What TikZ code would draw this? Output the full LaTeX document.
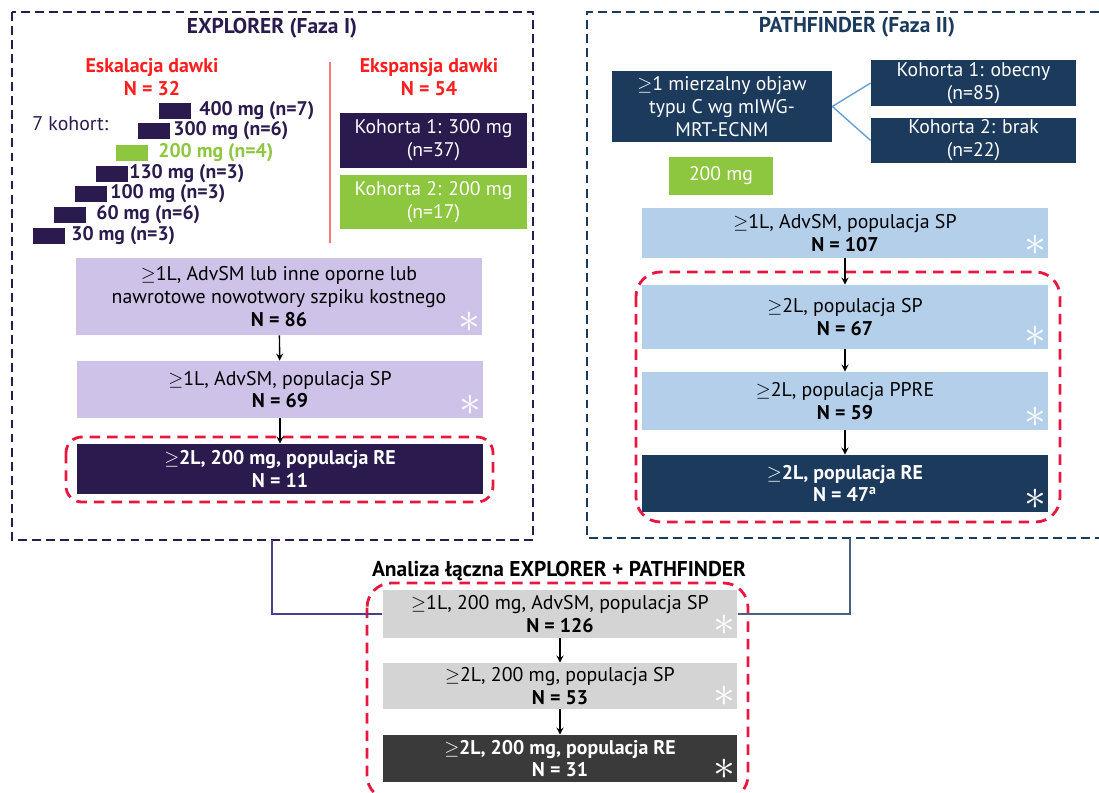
\documentclass[tikz,border=0pt]{standalone}
\usepackage{fontspec}
\setmainfont{PT Sans}
\usetikzlibrary{positioning}
\tikzset{>=stealth}
\definecolor{explnavy}{HTML}{2B1A4E}
\definecolor{pathnavy}{HTML}{1B3A5C}
\definecolor{lav}{HTML}{CEC2E8}
\definecolor{lightblue}{HTML}{B3CFEA}
\definecolor{limegreen}{HTML}{8DC63F}
\definecolor{lightgrey}{HTML}{D4D4D4}
\definecolor{darkgrey}{HTML}{3A3A3A}
\definecolor{alertred}{HTML}{E8173F}
\definecolor{titlered}{HTML}{FF1E1E}
\definecolor{linkblue}{HTML}{6A9FD4}
\definecolor{linkpurple}{HTML}{4B3F8C}

\tikzset{
  box/.style={rectangle, inner sep=1pt, align=center, font=\fontsize{11.3}{13}\selectfont},
  lavbox/.style={box, fill=lav, text=black, minimum width=8.12cm},
  bluebox/.style={box, fill=lightblue, text=black, minimum width=8.12cm},
  greybox/.style={box, fill=lightgrey, text=black, minimum width=7.1cm},
  darkbox/.style={box, text=white, font=\fontsize{11.3}{13}\selectfont\bfseries},
  cohortbox/.style={box, text=white, font=\fontsize{11.2}{13}\selectfont},
  dosebar/.style={rectangle, fill=#1, minimum width=0.64cm, minimum height=0.33cm, inner sep=0pt},
  doselabel/.style={inner sep=0pt, anchor=west, font=\fontsize{11.2}{13}\selectfont\bfseries},
  heading/.style={font=\fontsize{12.2}{13}\selectfont\bfseries, align=center},
  redheading/.style={font=\fontsize{11.3}{13}\selectfont\bfseries, align=center, text=titlered},
  starmark/.style={text=white, inner sep=0pt, font=\fontsize{24}{24}\selectfont},
  reddash/.style={draw=alertred, line width=1.6pt, dash pattern=on 6pt off 4pt, rounded corners=9pt},
  flow/.style={->, line width=0.8pt, black},
}
\newcommand{\boxstar}[1]{\node[starmark] at ([xshift=-0.26cm,yshift=0.26cm]#1.south east) {$\ast$};}

\begin{document}
\begin{tikzpicture}[x=0.02cm,y=-0.02cm]
\useasboundingbox (0,0) rectangle (1099,793);

% EXPLORER (Faza I)
\draw[explnavy, line width=1.2pt, dash pattern=on 5pt off 3pt] (12,12) rectangle (533,540);
\node[heading, text=explnavy] (expltitle) at (272,28) {EXPLORER (Faza I)};

\node[redheading] (eskal) at (152,77) {Eskalacja dawki\\N = 32};
\node[redheading] (ekspa) at (429,77) {Ekspansja dawki\\N = 54};
\draw[titlered!60, line width=0.8pt] (330,62) -- (330,243);

\node[anchor=west, inner sep=0pt, text=explnavy, font=\fontsize{11.3}{13}\selectfont] (kohort) at (32,124) {7 kohort:};
\foreach \bx/\by/\tx/\dose/\col in {159/111/199/400 mg (n=7)/explnavy,
                                   138/131/173/300 mg (n=6)/explnavy,
                                   116/153/158/200 mg (n=4)/limegreen,
                                   96/174/129/130 mg (n=3)/explnavy,
                                   75/194/110/100 mg (n=3)/explnavy,
                                   54/215/96/60 mg (n=6)/explnavy,
                                   33/236/71/30 mg (n=3)/explnavy}{
  \node[dosebar=\col, anchor=west] (bar\bx) at (\bx,\by) {};
  \node[doselabel, text=\col] (dose\bx) at (\tx,\by) {\dose};
}

\node[cohortbox, fill=explnavy, minimum width=3.74cm, minimum height=1.1cm] (kohA) at (433.5,140.5) {Kohorta 1: 300 mg\\(n=37)};
\node[cohortbox, fill=limegreen, minimum width=3.74cm, minimum height=1.08cm] (kohB) at (433.5,202) {Kohorta 2: 200 mg\\(n=17)};

\node[lavbox, minimum height=1.54cm] (e86) at (279,296.5) {$\geq$1L, AdvSM lub inne oporne lub\\nawrotowe nowotwory szpiku kostnego\\\textbf{N = 86}};
\node[lavbox, minimum height=1.14cm] (e69) at (280,389.5) {$\geq$1L, AdvSM, populacja SP\\\textbf{N = 69}};
\draw[reddash] (66,437) rectangle (493,502);
\node[darkbox, fill=explnavy, minimum width=8.12cm, minimum height=1.0cm] (eRE) at (280,469) {$\geq$2L, 200 mg, populacja RE\\N = 11};
\boxstar{e86}
\boxstar{e69}
\draw[flow] (e86) -- (e69);
\draw[flow] (e69) -- (eRE);

% PATHFINDER (Faza II)
\draw[pathnavy, line width=1.2pt, dash pattern=on 5pt off 3pt] (1099,12) -- (587,12) -- (587,538) -- (1099,538);
\node[heading, text=pathnavy] (pathtitle) at (857,27) {PATHFINDER (Faza II)};

\node[cohortbox, fill=pathnavy, minimum width=4.4cm, minimum height=1.42cm] (objaw) at (722,106.5) {$\geq$1 mierzalny objaw\\typu C wg mIWG-\\MRT-ECNM};
\node[cohortbox, fill=pathnavy, minimum width=4.1cm, minimum height=0.92cm] (pkA) at (973.5,83) {Kohorta 1: obecny\\(n=85)};
\node[cohortbox, fill=pathnavy, minimum width=4.1cm, minimum height=0.9cm] (pkB) at (973.5,140.5) {Kohorta 2: brak\\(n=22)};
\draw[linkblue, line width=0.8pt] (objaw.east) -- (pkA.west);
\draw[linkblue, line width=0.8pt] (objaw.east) -- (pkB.west);
\node[cohortbox, fill=limegreen, minimum width=2.08cm, minimum height=0.76cm] (dose200) at (721,176) {200 mg};

\node[bluebox, minimum height=1.0cm] (p107) at (845,233) {$\geq$1L, AdvSM, populacja SP\\\textbf{N = 107}};
\draw[reddash, rounded corners=14pt] (636,272) rectangle (1060,522);
\node[bluebox, minimum height=1.28cm] (p67) at (845,317) {$\geq$2L, populacja SP\\\textbf{N = 67}};
\node[bluebox, minimum height=1.16cm] (p59) at (845,401) {$\geq$2L, populacja PPRE\\\textbf{N = 59}};
\node[darkbox, fill=pathnavy, minimum width=8.12cm, minimum height=1.14cm] (p47) at (845,483.5) {$\geq$2L, populacja RE\\N = 47\textsuperscript{a}};
\boxstar{p107}
\boxstar{p67}
\boxstar{p59}
\boxstar{p47}
\draw[flow] (p107) -- (p67);
\draw[flow] (p67) -- (p59);
\draw[flow] (p59) -- (p47);

% Analiza laczna
\coordinate (explout) at (272,540);
\coordinate (pathout) at (850,538);
\node[heading, text=black] (pooltitle) at (559,571) {Analiza łączna EXPLORER + PATHFINDER};
\draw[reddash, rounded corners=14pt] (367,583) rectangle (748,800);
\node[greybox, minimum height=0.96cm] (c126) at (560,614) {$\geq$1L, 200 mg, AdvSM, populacja SP\\\textbf{N = 126}};
\node[greybox, minimum height=0.92cm] (c53) at (560,686) {$\geq$2L, 200 mg, populacja SP\\\textbf{N = 53}};
\node[darkbox, fill=darkgrey, minimum width=7.1cm, minimum height=0.94cm] (c31) at (560,758.5) {$\geq$2L, 200 mg, populacja RE\\N = 31};
\boxstar{c126}
\boxstar{c53}
\boxstar{c31}
\draw[linkpurple, line width=0.8pt] (explout) |- (c126.west);
\draw[pathnavy!80, line width=0.8pt] (pathout) |- (c126.east);
\draw[flow] (c126) -- (c53);
\draw[flow] (c53) -- (c31);
\end{tikzpicture}
\end{document}
